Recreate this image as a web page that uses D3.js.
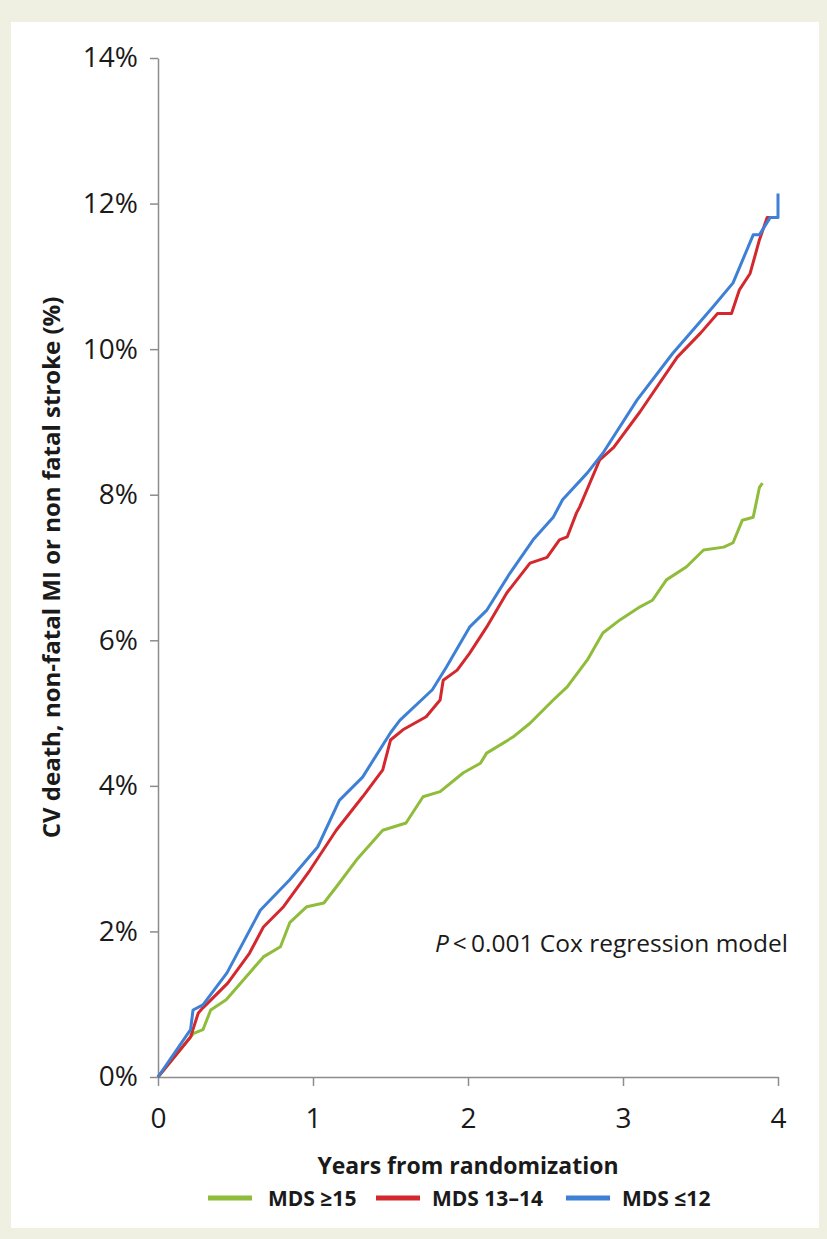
<!DOCTYPE html>
<html>
<head>
<meta charset="utf-8">
<script src="https://cdn.jsdelivr.net/npm/d3@7"></script>
<style>
  html, body { margin: 0; padding: 0; background: #eff0e2; }
  svg { display: block; }
</style>
</head>
<body>
<svg id="chart" width="827" height="1239"></svg>
<script>
// Cumulative incidence (%) of CV death, non-fatal MI or non-fatal stroke by MDS group
const seriesNames = ["MDS \u226515", "MDS 13\u201314", "MDS \u226412"];
const seriesColors = ["#8fbc3a", "#d3282d", "#3d80d5"];

const yearsHigh = [0, 0.23, 0.29, 0.34, 0.44, 0.59, 0.68, 0.79, 0.85, 0.96, 1.07, 1.15, 1.28, 1.45, 1.60, 1.71, 1.82, 1.97, 2.08, 2.12, 2.29, 2.40, 2.55, 2.64, 2.77, 2.87, 2.98, 3.11, 3.19, 3.28, 3.41, 3.52, 3.65, 3.71, 3.77, 3.84, 3.88, 3.90];
const valuesHigh = [0, 0.60, 0.65, 0.92, 1.06, 1.43, 1.65, 1.79, 2.12, 2.34, 2.39, 2.61, 2.98, 3.39, 3.49, 3.85, 3.92, 4.18, 4.31, 4.45, 4.67, 4.86, 5.18, 5.36, 5.73, 6.10, 6.28, 6.46, 6.55, 6.83, 7.01, 7.24, 7.28, 7.34, 7.65, 7.69, 8.10, 8.16];

const yearsMid = [0, 0.21, 0.26, 0.29, 0.45, 0.59, 0.68, 0.81, 0.98, 1.15, 1.32, 1.45, 1.50, 1.58, 1.73, 1.82, 1.84, 1.93, 2.01, 2.12, 2.25, 2.40, 2.51, 2.59, 2.64, 2.70, 2.72, 2.85, 2.94, 3.11, 3.35, 3.50, 3.61, 3.70, 3.75, 3.82, 3.88, 3.93, 3.99];
const valuesMid = [0, 0.55, 0.88, 0.95, 1.29, 1.70, 2.06, 2.34, 2.84, 3.39, 3.85, 4.22, 4.63, 4.77, 4.95, 5.18, 5.45, 5.59, 5.82, 6.18, 6.65, 7.06, 7.14, 7.38, 7.42, 7.75, 7.83, 8.48, 8.65, 9.14, 9.89, 10.22, 10.49, 10.49, 10.81, 11.04, 11.50, 11.81, 11.81];

const yearsLow = [0, 0.21, 0.226, 0.29, 0.445, 0.66, 0.85, 1.03, 1.17, 1.32, 1.50, 1.56, 1.77, 1.86, 2.01, 2.12, 2.27, 2.42, 2.55, 2.61, 2.77, 2.87, 3.09, 3.32, 3.45, 3.58, 3.71, 3.84, 3.88, 3.95, 4.0, 4.0];
const valuesLow = [0, 0.65, 0.92, 0.99, 1.43, 2.29, 2.71, 3.16, 3.80, 4.12, 4.73, 4.90, 5.32, 5.63, 6.18, 6.41, 6.92, 7.38, 7.69, 7.93, 8.30, 8.57, 9.30, 9.94, 10.26, 10.58, 10.91, 11.57, 11.57, 11.81, 11.81, 12.14];

const xTicks = [0, 1, 2, 3, 4];
const yTicks = [0, 2, 4, 6, 8, 10, 12, 14];

const seriesYears = [yearsHigh, yearsMid, yearsLow];
const seriesValues = [valuesHigh, valuesMid, valuesLow];

const svg = d3.select("#chart");
const font = "'Open Sans', 'DejaVu Sans', sans-serif";

// white panel
svg.append("rect")
  .attr("x", 11).attr("y", 22).attr("width", 808).attr("height", 1206)
  .attr("fill", "#ffffff");

const x = d3.scaleLinear().domain([0, 4]).range([158, 778]);
const y = d3.scaleLinear().domain([0, 14]).range([1077, 58]);

const axisColor = "#8c8c8c";

// y axis
const gy = svg.append("g")
  .attr("transform", `translate(${x(0)},0)`)
  .call(d3.axisLeft(y).tickValues(yTicks).tickFormat(d => d + "%")
    .tickSize(8).tickSizeOuter(0).tickPadding(12));

// x axis
const gx = svg.append("g")
  .attr("transform", `translate(0,${y(0)})`)
  .call(d3.axisBottom(x).tickValues(xTicks).tickFormat(d3.format("d"))
    .tickSize(9).tickSizeOuter(0).tickPadding(22));

[gx, gy].forEach(g => {
  g.select(".domain").attr("stroke", axisColor).attr("stroke-width", 1.5);
  g.selectAll(".tick line").attr("stroke", axisColor).attr("stroke-width", 1.5);
  g.selectAll(".tick text")
    .attr("fill", "#1a1a1a")
    .style("font-family", font)
    .style("font-size", "28px");
});

// survival curves
const line = d3.line()
  .x(d => x(d[0]))
  .y(d => y(d[1]))
  .curve(d3.curveLinear);

seriesNames.forEach((name, i) => {
  const pts = seriesYears[i].map((t, k) => [t, seriesValues[i][k]]);
  svg.append("path")
    .datum(pts)
    .attr("fill", "none")
    .attr("stroke", seriesColors[i])
    .attr("stroke-width", 3)
    .attr("stroke-linejoin", "round")
    .attr("d", line);
});

// axis titles
svg.append("text")
  .attr("x", 468).attr("y", 1174)
  .attr("text-anchor", "middle")
  .attr("fill", "#1a1a1a")
  .style("font-family", font).style("font-weight", "bold").style("font-size", "23px")
  .text("Years from randomization");

svg.append("text")
  .attr("transform", `translate(60,${(y(0) + y(14)) / 2}) rotate(-90)`)
  .attr("text-anchor", "middle")
  .attr("fill", "#1a1a1a")
  .style("font-family", font).style("font-weight", "bold").style("font-size", "24px")
  .text("CV death, non-fatal MI or non fatal stroke (%)");

// p-value note
const note = svg.append("text")
  .attr("x", 788).attr("y", 952)
  .attr("text-anchor", "end")
  .attr("fill", "#1a1a1a")
  .style("font-family", font).style("font-size", "24.5px");
note.append("tspan").style("font-style", "italic").text("P");
note.append("tspan").text("\u2009<\u20090.001 Cox regression model");

// legend
const legendSampleX = [208, 376, 566];
const legendTextX = [268, 432, 622];
const legendY = 1198;
seriesNames.forEach((name, i) => {
  svg.append("line")
    .attr("x1", legendSampleX[i]).attr("x2", legendSampleX[i] + 44)
    .attr("y1", legendY).attr("y2", legendY)
    .attr("stroke", seriesColors[i]).attr("stroke-width", 5);
  svg.append("text")
    .attr("x", legendTextX[i]).attr("y", legendY + 8)
    .attr("fill", "#1a1a1a")
    .style("font-family", font).style("font-weight", "bold").style("font-size", "21px")
    .text(name);
});
</script>
</body>
</html>
